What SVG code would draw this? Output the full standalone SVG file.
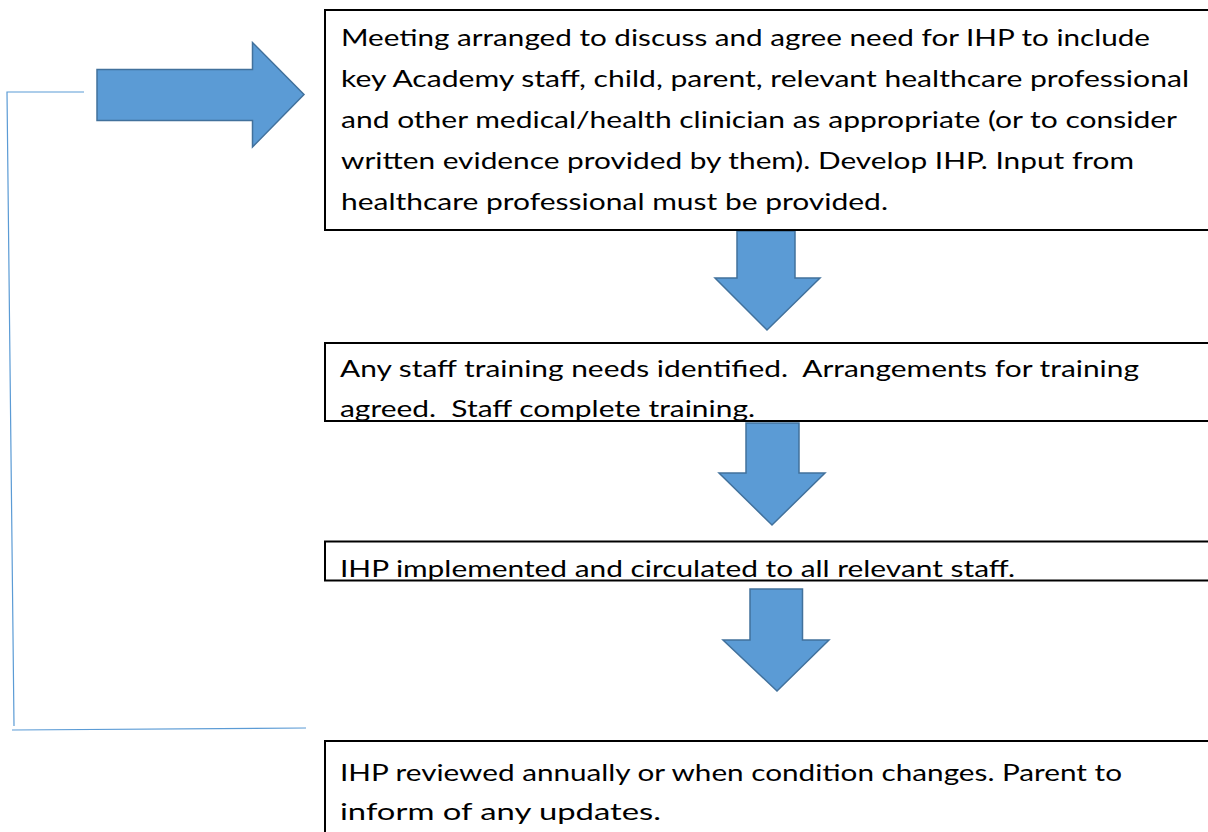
<svg xmlns="http://www.w3.org/2000/svg" width="1208" height="832" viewBox="0 0 1208 832">
<style>
.box{fill:#fff;stroke:#000;stroke-width:2}
.t{font-family:Lato,"Liberation Sans",sans-serif;font-size:24px;fill:#000;white-space:pre}
.arr{fill:#5B9BD5;stroke:#41719C;stroke-width:1.5;stroke-linejoin:miter}
.fb{fill:none;stroke:#5B9BD5;stroke-width:1.2}
</style>
<rect width="1208" height="832" fill="#fff"/>
<g id="connectors">
<polygon class="arr" points="97,69.5 252.5,69.5 252.5,42.5 304,94.5 252.5,147 252.5,120.5 97,120.5"/>
<polygon class="arr" points="737,231 795,231 795,278 820,278 767,330 715,278 737,278"/>
<polygon class="arr" points="746,423 799,423 799,473 825,473 772,525 719,473 746,473"/>
<polygon class="arr" points="750,589 802.5,589 802.5,640 829,640 777,691 723,640 750,640"/>
<polyline class="fb" points="84,92 7,92 14,726"/>
<line class="fb" x1="12" y1="730" x2="306" y2="728"/>
</g>
<g id="node1">
<rect class="box" x="325" y="10" width="920" height="220"/>
<text class="t" x="341" y="46" textLength="809" lengthAdjust="spacingAndGlyphs">Meeting arranged to discuss and agree need for IHP to include</text>
<text class="t" x="341" y="87" textLength="848" lengthAdjust="spacingAndGlyphs">key Academy staff, child, parent, relevant healthcare professional</text>
<text class="t" x="341" y="128" textLength="836" lengthAdjust="spacingAndGlyphs">and other medical/health clinician as appropriate (or to consider</text>
<text class="t" x="341" y="169" textLength="793" lengthAdjust="spacingAndGlyphs">written evidence provided by them). Develop IHP. Input from</text>
<text class="t" x="341" y="210" textLength="547" lengthAdjust="spacingAndGlyphs">healthcare professional must be provided.</text>
</g>
<g id="node2">
<rect class="box" x="325" y="343" width="920" height="78"/>
<text class="t" x="340" y="377" textLength="799" lengthAdjust="spacingAndGlyphs">Any staff training needs identified.  Arrangements for training</text>
<text class="t" x="340" y="417" textLength="415" lengthAdjust="spacingAndGlyphs">agreed.  Staff complete training.</text>
</g>
<g id="node3">
<rect class="box" x="325" y="541.5" width="920" height="39"/>
<text class="t" x="340" y="577" textLength="675" lengthAdjust="spacingAndGlyphs">IHP implemented and circulated to all relevant staff.</text>
</g>
<g id="node4">
<rect class="box" x="325" y="741" width="920" height="120"/>
<text class="t" x="340" y="781" textLength="782" lengthAdjust="spacingAndGlyphs">IHP reviewed annually or when condition changes. Parent to</text>
<text class="t" x="340" y="820" textLength="321" lengthAdjust="spacingAndGlyphs">inform of any updates.</text>
</g>
</svg>
